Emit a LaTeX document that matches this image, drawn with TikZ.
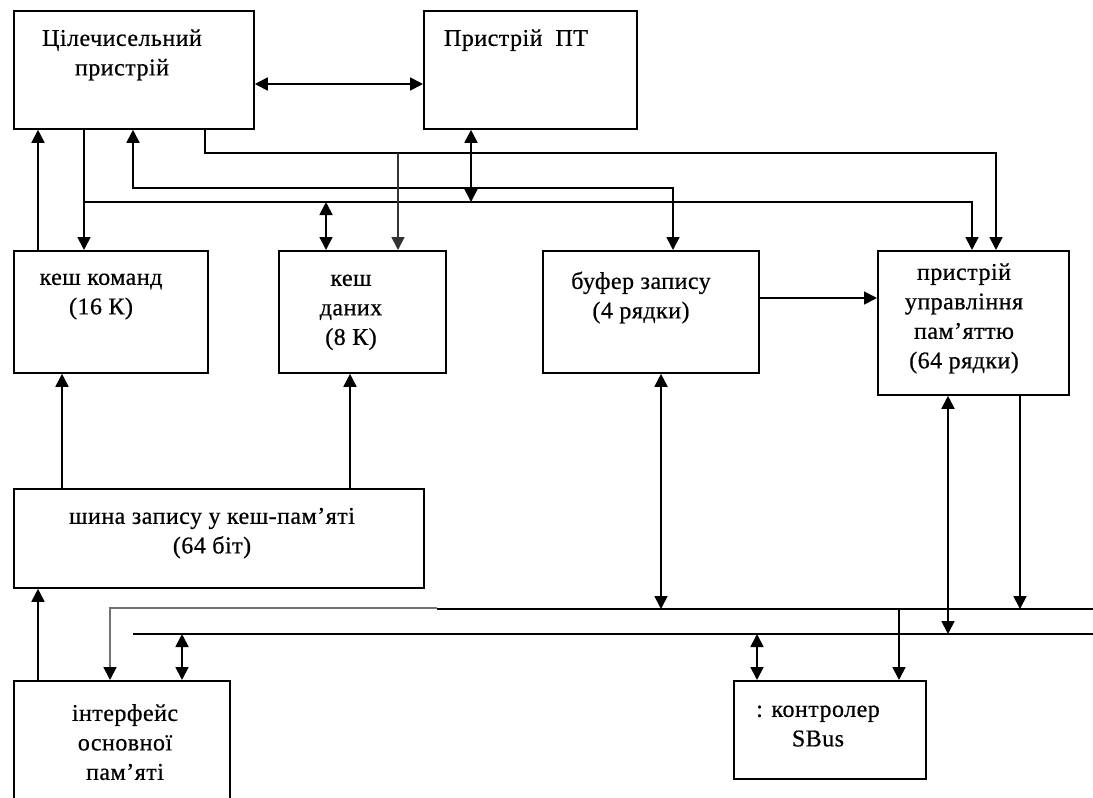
\documentclass[tikz,border=0pt]{standalone}
\usepackage{fontspec}
\setmainfont{Liberation Serif}
\newfontfamily\boxfont{Liberation Serif}[FakeBold=0.6, LetterSpace=2, Ligatures=TeX]
\usetikzlibrary{arrows.meta}
\begin{document}
\begin{tikzpicture}[x=1pt,y=-1pt,
  box/.style={draw, line width=1.8pt, rectangle, anchor=north west, inner sep=0pt},
  lbl/.style={anchor=north, align=center, inner sep=0pt, font=\boxfont\fontsize{24}{29.5}\selectfont},
  link/.style={line width=1.8pt},
  tip/.tip={Triangle[length=13pt,width=13pt]},
  arr/.style={link, -tip},
  dbl/.style={link, tip-tip},
]
\useasboundingbox (0,0) rectangle (1093,798);

% blocks
\node[box, minimum width=240pt, minimum height=118pt] (alu)    at (13,10)  {};
\node[box, minimum width=213pt, minimum height=118pt] (fpu)    at (423,10) {};
\node[box, minimum width=194pt, minimum height=122pt] (icache) at (13,250) {};
\node[box, minimum width=167pt, minimum height=122pt] (dcache) at (278,250) {};
\node[box, minimum width=216pt, minimum height=122pt] (wbuf)   at (542,250) {};
\node[box, minimum width=191pt, minimum height=144pt] (mmu)    at (877,250) {};
\node[box, minimum width=410pt, minimum height=99pt]  (cbus)   at (13,488) {};
\node[box, minimum width=216pt, minimum height=140pt] (memif)  at (13,680) {};
\node[box, minimum width=192pt, minimum height=98pt]  (sbus)   at (733,680) {};

% block captions
\node[lbl] (alut)    at (122,25)  {\strut Цілечисельний\\пристрій};
\node[lbl] (fput)    at (516,25)  {\strut Пристрій\ \ ПТ};
\node[lbl] (icachet) at (101,264) {\strut кеш команд\\(16 К)};
\node[lbl] (dcachet) at (351,265) {\strut кеш\\даних\\(8 К)};
\node[lbl] (wbuft)   at (641,268) {\strut буфер запису\\(4 рядки)};
\node[lbl] (mmut)    at (964,259) {\strut пристрій\\управління\\пам’яттю\\(64 рядки)};
\node[lbl] (cbust)   at (212,503) {\strut шина запису у кеш-пам’яті\\(64 біт)};
\node[lbl] (memift)  at (125,700) {\strut інтерфейс\\основної\\пам’яті};
\node[lbl] (sbust)   at (818,696) {\strut : контролер\\SBus};

% bus lines
\coordinate (b1) at (1093,609);
\coordinate (b2l) at (133,634);
\coordinate (b2) at (1093,634);

% upper connections
\draw[dbl] (alu.east |- 0,84) -- (fpu.west |- 0,84);
\draw[arr] (38,0 |- icache.north) -- (38,0 |- alu.south);
\draw[arr] (84,0 |- alu.south) -- (84,0 |- icache.north);
\draw[arr] (84,202) -- (972,202) -- (972,0 |- mmu.north);
\draw[dbl] (133,0 |- alu.south) -- (133,188) -- (673,188) -- (673,0 |- wbuf.north);
\draw[arr] (205,0 |- alu.south) -- (205,153) -- (996,153) -- (996,0 |- mmu.north);
\draw[arr, black!80] (398,153) -- (398,0 |- dcache.north);
\draw[dbl] (326,202) -- (326,0 |- dcache.north);
\draw[dbl] (471,0 |- fpu.south) -- (471,202);

% middle connections
\draw[arr] (62,0 |- cbus.north) -- (62,0 |- icache.south);
\draw[arr] (350,0 |- cbus.north) -- (350,0 |- dcache.south);
\draw[arr] (wbuf.east |- 0,298) -- (mmu.west |- 0,298);
\draw[dbl] (661,0 |- wbuf.south) -- (661,0 |- b1);
\draw[dbl] (948,0 |- mmu.south) -- (948,0 |- b2);
\draw[arr] (1020,0 |- mmu.south) -- (1020,0 |- b1);

% lower buses and connections
\draw[arr] (38,0 |- memif.north) -- (38,0 |- cbus.south);
\draw[link] (b1) -- (437,609);
\draw[link, black!55, -{Triangle[length=13pt,width=13pt,color=black]}] (437,608) -- (110,608) -- (110,0 |- memif.north);
\draw[link] (b2l) -- (b2);
\draw[dbl] (182,0 |- b2l) -- (182,0 |- memif.north);
\draw[dbl] (757,0 |- b2) -- (757,0 |- sbus.north);
\draw[arr] (899,0 |- b1) -- (899,0 |- sbus.north);
\end{tikzpicture}
\end{document}
